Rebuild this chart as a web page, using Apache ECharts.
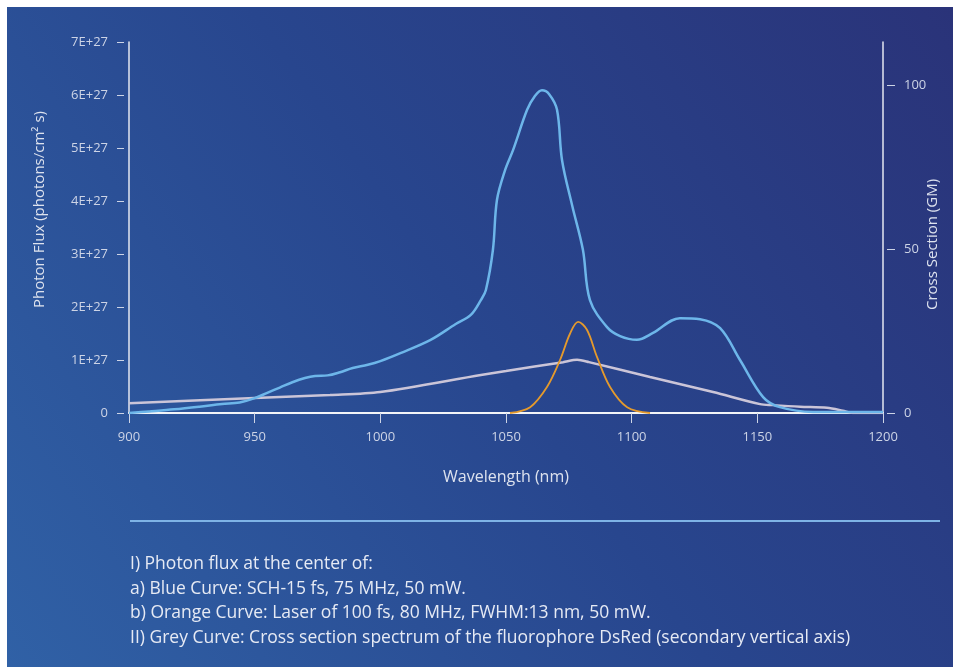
<!DOCTYPE html>
<html>
<head>
<meta charset="utf-8">
<script src="https://cdn.jsdelivr.net/npm/echarts@6/dist/echarts.min.js"></script>
<style>
html,body{margin:0;padding:0;background:#fff;}
#c{width:953px;height:667px;}
</style>
</head>
<body>
<div id="c"></div>
<script>
// Wavelength (nm) / photon flux (photons/cm² s) — blue curve (SCH-15 fs)
var blueWavelength = [900, 908, 918, 928, 937, 944, 950, 955, 960, 965, 970, 974, 979, 984, 989, 995, 1000, 1008, 1020, 1030, 1036, 1040, 1042, 1044.8, 1046.4, 1049.6, 1052.8, 1058.4, 1061.5, 1064.3, 1067.1, 1070.3, 1072.3, 1076.3, 1080.6, 1083.4, 1090.2, 1095.4, 1102.1, 1108.5, 1119.2, 1127.2, 1135.2, 1143.1, 1152.3, 1159, 1172.2, 1200];
var blueFlux = [0, 0.03e27, 0.07e27, 0.12e27, 0.17e27, 0.2e27, 0.28e27, 0.38e27, 0.48e27, 0.58e27, 0.66e27, 0.7e27, 0.71e27, 0.77e27, 0.85e27, 0.91e27, 0.98e27, 1.13e27, 1.38e27, 1.68e27, 1.85e27, 2.13e27, 2.32e27, 3.08e27, 4.02e27, 4.58e27, 4.96e27, 5.72e27, 5.98e27, 6.09e27, 6.02e27, 5.72e27, 4.77e27, 3.92e27, 3.08e27, 2.13e27, 1.62e27, 1.45e27, 1.38e27, 1.51e27, 1.79e27, 1.77e27, 1.6e27, 1.0e27, 0.3e27, 0.11e27, 0.02e27, 0.02e27];
// Orange curve (laser 100 fs)
var orangeWavelength = [1051.6, 1059.6, 1066.3, 1071.5, 1075.5, 1078.7, 1082.2, 1086.2, 1091.4, 1098.2, 1107.3];
var orangeFlux = [0, 0.11e27, 0.49e27, 1.0e27, 1.5e27, 1.72e27, 1.57e27, 1.06e27, 0.49e27, 0.11e27, 0];
// Grey curve: DsRed cross section (GM)
var greyWavelength = [900, 950, 980, 1000, 1040, 1050, 1072.7, 1078.3, 1083, 1107.3, 1132.4, 1151.1, 1156, 1167, 1177.7, 1184, 1188, 1200];
var greyGM = [3.0, 4.6, 5.5, 6.4, 11.6, 12.8, 15.5, 16.2, 15.5, 11.0, 6.4, 2.7, 2.4, 1.9, 1.6, 0.7, 0, 0];
// Tick labels
var xTicks = [900, 950, 1000, 1050, 1100, 1150, 1200];
var fluxTicks = [0, 1e27, 2e27, 3e27, 4e27, 5e27, 6e27, 7e27];
var gmTicks = [0, 50, 100];
var notes = [
  'I) Photon flux at the center of:',
  'a) Blue Curve: SCH-15 fs, 75 MHz, 50 mW.',
  'b) Orange Curve: Laser of 100 fs, 80 MHz, FWHM:13 nm, 50 mW.',
  'II) Grey Curve: Cross section spectrum of the fluorophore DsRed (secondary vertical axis)'
];

function pairs(xs, ys) { return xs.map(function (x, i) { return [x, ys[i]]; }); }
function fluxFmt(v) { return v === 0 ? '0' : Math.round(v / 1e27) + 'E+27'; }
function plainFmt(v) { return String(v); }

var FONT = '"Open Sans", "Noto Sans", sans-serif';
var labelColor = '#cdd4e6';
var lineColor = '#e4e7f0';

var chart = echarts.init(document.getElementById('c'), null, {renderer: 'canvas'});
var noteGraphics = notes.map(function (t, i) {
  return {
    type: 'text', left: 130, top: 555 + i * 24.6,
    style: {text: t, fill: '#e6eaf4', font: '17.5px ' + FONT}
  };
});

chart.setOption({
  backgroundColor: '#ffffff',
  animation: false,
  graphic: [
    {
      type: 'rect', z: -10, silent: true,
      shape: {x: 7, y: 7, width: 946, height: 660},
      style: {
        fill: new echarts.graphic.LinearGradient(0, 1, 1, 0, [
          {offset: 0, color: '#3061a6'},
          {offset: 0.5, color: '#28468e'},
          {offset: 1, color: '#2a3379'}
        ])
      }
    },
    {
      type: 'rect', silent: true,
      shape: {x: 130, y: 520, width: 810, height: 2},
      style: {fill: '#7eb3e6'}
    }
  ].concat(noteGraphics),
  grid: {left: 129, right: 70, top: 42, bottom: 254},
  xAxis: [
    {
      type: 'value', min: 900, max: 1200, interval: 50,
      axisLine: {show: true, lineStyle: {color: '#f2f4f8', width: 2}},
      axisTick: {show: false}, axisLabel: {show: false}, splitLine: {show: false},
      name: 'Wavelength (nm)', nameLocation: 'middle', nameGap: 56,
      nameTextStyle: {color: '#dde2ee', fontSize: 16, fontFamily: FONT}
    },
    {
      type: 'value', min: 900, max: 1200, interval: 50, position: 'bottom', offset: 5,
      axisLine: {show: false}, splitLine: {show: false},
      axisTick: {show: true, length: 10, lineStyle: {color: labelColor, width: 1}, customValues: xTicks},
      axisLabel: {show: true, margin: 13, color: labelColor, fontSize: 13, fontFamily: FONT,
        customValues: xTicks, formatter: plainFmt}
    }
  ],
  yAxis: [
    {
      type: 'value', min: 0, max: 7e27, interval: 1e27, position: 'left',
      axisLine: {show: true, lineStyle: {color: lineColor, width: 1.5}},
      axisTick: {show: false}, axisLabel: {show: false}, splitLine: {show: false},
      name: 'Photon Flux (photons/cm² s)', nameLocation: 'middle', nameGap: 82,
      nameTextStyle: {color: '#dde2ee', fontSize: 15, fontFamily: FONT, padding: [0, 0, 0, 36]}
    },
    {
      type: 'value', min: 0, max: 113.1, position: 'right',
      axisLine: {show: true, lineStyle: {color: lineColor, width: 1.5}},
      axisTick: {show: false}, axisLabel: {show: false}, splitLine: {show: false},
      name: 'Cross Section (GM)', nameLocation: 'middle', nameGap: 42,
      nameTextStyle: {color: '#dde2ee', fontSize: 15, fontFamily: FONT, padding: [0, 34, 0, 0]}
    },
    {
      type: 'value', min: 0, max: 7e27, interval: 1e27, position: 'left', offset: 5,
      axisLine: {show: false}, splitLine: {show: false},
      axisTick: {show: true, length: 7, lineStyle: {color: labelColor, width: 1}, customValues: fluxTicks},
      axisLabel: {show: true, margin: 16, color: labelColor, fontSize: 13, fontFamily: FONT,
        customValues: fluxTicks, formatter: fluxFmt}
    },
    {
      type: 'value', min: 0, max: 113.1, position: 'right', offset: 4,
      axisLine: {show: false}, splitLine: {show: false},
      axisTick: {show: true, length: 8, lineStyle: {color: labelColor, width: 1}, customValues: gmTicks},
      axisLabel: {show: true, margin: 17, color: labelColor, fontSize: 13, fontFamily: FONT,
        customValues: gmTicks, formatter: plainFmt}
    }
  ],
  series: [
    {
      name: 'Cross section DsRed', type: 'line', xAxisIndex: 0, yAxisIndex: 1,
      data: pairs(greyWavelength, greyGM), showSymbol: false, smooth: 0.3,
      lineStyle: {color: '#cbc5d8', width: 2.5}, z: 2
    },
    {
      name: 'Orange', type: 'line', xAxisIndex: 0, yAxisIndex: 0,
      data: pairs(orangeWavelength, orangeFlux), showSymbol: false, smooth: 0.35,
      lineStyle: {color: '#e59a2c', width: 1.8}, z: 3
    },
    {
      name: 'Blue', type: 'line', xAxisIndex: 0, yAxisIndex: 0,
      data: pairs(blueWavelength, blueFlux), showSymbol: false, smooth: 0.35,
      lineStyle: {color: '#6db6ea', width: 2.5}, z: 4
    }
  ]
});
</script>
</body>
</html>
